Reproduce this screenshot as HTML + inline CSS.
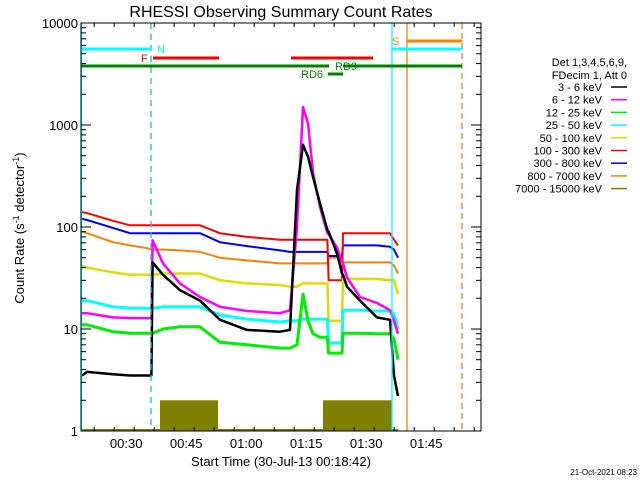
<!DOCTYPE html>
<html><head><meta charset="utf-8"><style>
body{margin:0;background:#fff}
svg{display:block;font-family:"Liberation Sans",sans-serif}
</style></head><body>
<svg id="chart" width="640" height="480" viewBox="0 0 640 480">
<rect width="640" height="480" fill="#fff"/>
<text x="281" y="17" text-anchor="middle" font-size="16">RHESSI Observing Summary Count Rates</text>
<text x="281" y="466" text-anchor="middle" font-size="13">Start Time (30-Jul-13 00:18:42)</text>
<text transform="translate(24,228) rotate(-90)" text-anchor="middle" font-size="13">Count Rate (s<tspan font-size="9" dy="-5">-1</tspan><tspan dy="5"> detector</tspan><tspan font-size="9" dy="-5">-1</tspan><tspan dy="5">)</tspan></text>
<text x="637" y="475" text-anchor="end" font-size="8">21-Oct-2021 08:23</text>
<g id="marks"></g>
<g id="axes"></g>
<g id="legend"></g>
</svg>
<script>
const times=[0.25,1.5,8,12.25,16.5,17.6,17.9,20.5,24.75,29.75,34.75,41.5,49.75,52.25,54,55.5,56.75,58,59.75,61.6,61.9,64,65.25,65.5,66.5,69.75,74,77.25,78.25,79.25];
const red=[140,137,115,104,104,104,104,104,104,104,87,80,75,75,75,75,75,75,75,75,30,30,30,87,87,87,87,87,75,66];
const blue=[120,117,98,87,87,87,87,87,87,87,71,65,59,57,57,57,57,57,57,57,52,52,52,66,66,66,66,64,60,50];
const orange=[90,87,71,66,62,60,60,60,59,57,50,47,44,44,44,44,44,44,44,44,50,50,50,45,45,45,45,45,42,35];
const yellow=[42,40,36,34,34,34,34,35,35,35,30,28,27,26,26,28,28,28,28,28,12,12,12,31,31,31,31,30,30,22];
const cyan=[19,19,16.5,16,16,16,16,16.5,16.5,16.5,13.7,12.5,11.7,12,12,12.5,12.5,12.5,12.5,12.5,7.3,7.3,7.3,15.3,15.3,15.3,15,15,14,10];
const green=[11,11,9.4,9.1,9.1,9.1,9.1,10,10.5,10.5,7.4,7,6.5,6.5,7,22,12,9,8.3,8.3,5.8,5.8,5.8,9.1,9.1,9.1,9,9,8,5];
const magenta=[14.3,14.3,13,12.8,12.8,12.8,74,44,28,20.6,16.5,15,14.3,15.3,100,1500,1040,340,157,87,85,63,45,44,32,20.6,18,15.3,12,9];
const black=[3.5,3.8,3.6,3.5,3.5,3.5,45,34,24,19,12.3,9.8,9.4,9.8,230,640,490,310,170,93,90,55,35,34,26,19,13,12.3,3.5,2.2];
const oliveStart=[19.75,60.5];
const oliveEnd=[34.25,77.75];
const oliveLevel=[2,2];
const xTickMinutes=[11.3,26.3,41.3,56.3,71.3,86.3];
const xTickLabels=["00:30","00:45","01:00","01:15","01:30","01:45"];
const yTickValues=[1,10,100,1000,10000];
const yTickLabels=["1","10","100","1000","10000"];
const legendLabels=["3 - 6 keV","6 - 12 keV","12 - 25 keV","25 - 50 keV","50 - 100 keV","100 - 300 keV","300 - 800 keV","800 - 7000 keV","7000 - 15000 keV"];
const legendColors=["#000","#ff00ff","#00ee00","#00ffff","#dddd00","#ff0000","#0000ff","#ff8000","#808000"];

const NS="http://www.w3.org/2000/svg";
const X0=81,X1=481,Y0=431,Y1=23;
function xs(t){return X0+t*4;}
function ys(v){return Y0-Math.log10(v)*102;}
function mk(tag,attrs,parent){const e=document.createElementNS(NS,tag);for(const k in attrs)e.setAttribute(k,attrs[k]);parent.appendChild(e);return e;}
const marks=document.getElementById('marks');
const axes=document.getElementById('axes');
const legend=document.getElementById('legend');

// olive fill
for(let i=0;i<oliveStart.length;i++){
  const r=mk('rect',{x:xs(oliveStart[i]),y:ys(oliveLevel[i]),width:xs(oliveEnd[i])-xs(oliveStart[i]),height:Y0-ys(oliveLevel[i]),fill:'#808000'},marks);
  
  
}
const base=mk('line',{x1:X0,y1:Y0-1,x2:xs(79.25),y2:Y0-1,stroke:'#808000','stroke-width':2},marks);



const series=[[black,'#000','series-3-6-kev',2.5],[magenta,'#ff00ff','series-6-12-kev',2.5],[green,'#00ee00','series-12-25-kev',3],[cyan,'#00ffff','series-25-50-kev',3],[yellow,'#dddd00','series-50-100-kev',2.5],[red,'#ff0000','series-100-300-kev',2],[blue,'#0000ff','series-300-800-kev',2],[orange,'#ff8000','series-800-7000-kev',2]];
series.slice().reverse().forEach(s=>{
  const pts=times.map((t,i)=>xs(t).toFixed(1)+','+ys(s[0][i]).toFixed(1)).join(' ');
  const p=mk('polyline',{points:pts,fill:'none',stroke:s[1],'stroke-width':s[3],'stroke-linejoin':'round'},marks);
  
  
});

// vertical lines
function vline(x,col,dash,name){const l=mk('line',{x1:x,y1:Y1,x2:x,y2:Y0,stroke:col,'stroke-width':1.3},axes);if(dash)l.setAttribute('stroke-dasharray',dash);}
vline(81.5,'#00ffff',null,'saa-start-line');
vline(151,'#00cccc','6,5','night-end-line');
vline(392,'#00ffff',null,'night-start-line');
vline(407,'#ff8000',null,'saa-line');
vline(462,'#ff8000','6,4','end-line');
// flag bars
function hbar(x1,x2,y,col,name){const l=mk('line',{x1:x1,y1:y,x2:x2,y2:y,stroke:col,'stroke-width':3},axes);}
function lbl(x,y,t,col,name){const e=mk('text',{x:x,y:y,fill:col,'font-size':11},axes);e.textContent=t;}
hbar(81,151,49,'#00ffff','night-bar-1');hbar(392,462,49,'#00ffff','night-bar-2');
hbar(153,219,58,'#ff0000','flare-bar-1');hbar(291,373,58,'#ff0000','flare-bar-2');
hbar(81,329,66,'#008000','decimation-bar-1');hbar(343,462,66,'#008000','decimation-bar-2');
hbar(328,343,74,'#008000','rd6-bar');
hbar(407,462,41,'#ff8000','saa-bar');
lbl(157,53,'N','#00ffff','night-label');lbl(141,62,'F','#ff0000','flare-label');
lbl(335,70,'RD9','#008000','rd9-label');lbl(301,78,'RD6','#008000','rd6-label');
lbl(392,45,'S','#ff8000','saa-label');

// frame
const fr=mk('rect',{x:X0,y:Y1,width:X1-X0,height:Y0-Y1,fill:'none',stroke:'#000','stroke-width':1},axes);


// x ticks
for(let m=-8;m<=100;m+=5){const t=m+1.3;const x=xs(t);if(x<X0||x>X1)continue;const major=(Math.round(m)%15===10);const len=major?8:4;
  mk('line',{x1:x,y1:Y0,x2:x,y2:Y0-len,stroke:'#000'},axes);mk('line',{x1:x,y1:Y1,x2:x,y2:Y1+len,stroke:'#000'},axes);}
xTickMinutes.forEach((t,i)=>{const e=mk('text',{x:xs(t),y:448,'text-anchor':'middle','font-size':13},axes);e.textContent=xTickLabels[i];});
// y ticks
for(let d=0;d<4;d++)for(let k=1;k<10;k++){const y=ys(k*Math.pow(10,d));const len=k===1?10:5;
  mk('line',{x1:X0,y1:y,x2:X0+len,y2:y,stroke:'#000'},axes);mk('line',{x1:X1,y1:y,x2:X1-len,y2:y,stroke:'#000'},axes);}
yTickValues.forEach((v,i)=>{const e=mk('text',{x:78,y:ys(v)+5,'text-anchor':'end','font-size':13},axes);e.textContent=yTickLabels[i];});
// legend
[['Det 1,3,4,5,6,9,',66],['FDecim 1, Att 0',79]].forEach(a=>{const e=mk('text',{x:627,y:a[1],'text-anchor':'end','font-size':11},legend);e.textContent=a[0];});
legendLabels.forEach((l,i)=>{const y=87+i*12.7;
  const e=mk('text',{x:602,y:y+4,'text-anchor':'end','font-size':11},legend);e.textContent=l;
  
  
  const ln=mk('line',{x1:611,y1:y,x2:627,y2:y,stroke:legendColors[i],'stroke-width':1.5},legend);
  
  });
</script>
</body></html>
